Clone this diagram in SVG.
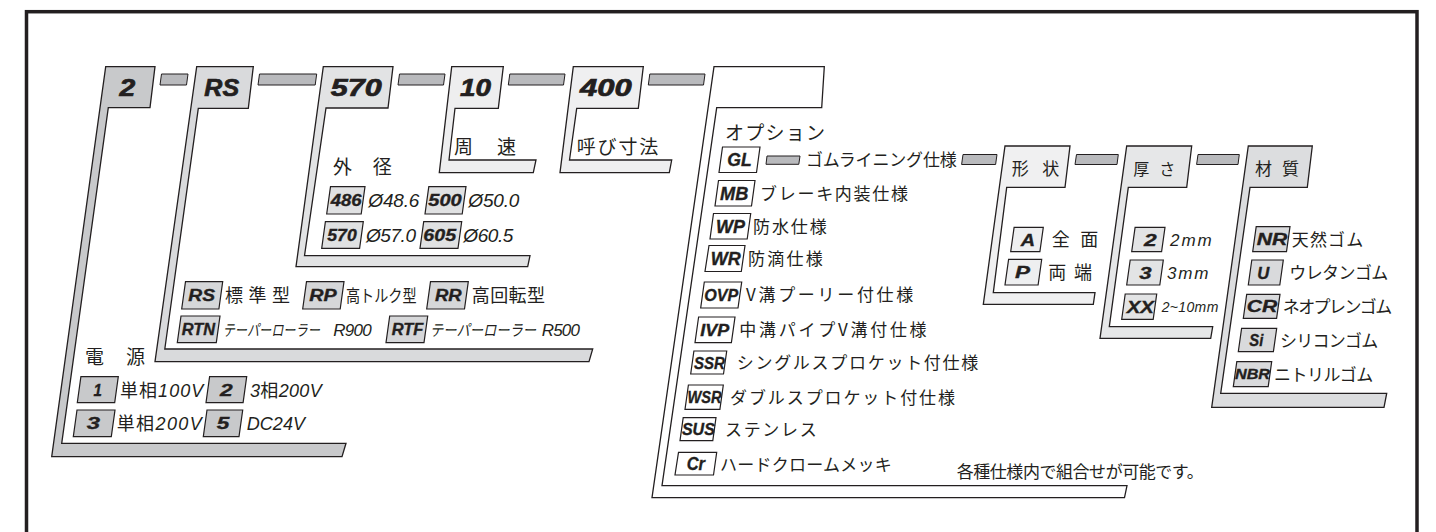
<svg xmlns="http://www.w3.org/2000/svg" width="1436" height="532" viewBox="0 0 1436 532">
<style>
.br{stroke:#231f20;stroke-width:1.3;stroke-linejoin:miter}
.bx{stroke:#231f20;stroke-width:1.2}
.bar{fill:#b9babd;stroke:#231f20;stroke-width:1}
.jp{font-family:"Noto Sans CJK JP","Noto Sans CJK SC",sans-serif;fill:#231f20}
.lt{font-family:"Liberation Sans",Arial,sans-serif;font-style:italic}
.ltx{font-family:"Liberation Sans",Arial,sans-serif;font-style:italic;fill:#231f20}
.lb{font-family:"Liberation Sans",Arial,sans-serif;font-weight:bold;font-style:italic;fill:#231f20;text-anchor:middle;stroke:#231f20;stroke-width:0.35}
.hd{font-size:23px;stroke-width:0.7}
.sm{font-size:17px}
</style>
<rect x="26.5" y="11.7" width="1390.5" height="600" fill="none" stroke="#231f20" stroke-width="3.5"/>

<g id="connectors">
<polygon class="bar" points="161.5,74 188,74 186.5,85 160,85"/>
<polygon class="bar" points="259.5,74 316.7,74 315.2,85 258,85"/>
<polygon class="bar" points="399.5,74 445,74 443.5,85 398,85"/>
<polygon class="bar" points="509.8,74 565,74 563.5,85 508.3,85"/>
<polygon class="bar" points="649.8,74 705,74 703.5,85 648.3,85"/>
<polygon class="bar" points="767,156 800,156 798.8,164.3 766,164.3"/>
<polygon class="bar" points="963,154.5 997,154.5 995.6,164.5 961.6,164.5"/>
<polygon class="bar" points="1076.5,154.5 1118.3,154.5 1117,164.5 1075,164.5"/>
<polygon class="bar" points="1198,154.5 1239.3,154.5 1238,164.5 1196.6,164.5"/>
</g>

<g id="node-power">
<polygon class="br" fill="#c8c9cb" points="105.7,66.7 155,66.7 150,107.7 108.3,107.7 61.7,443.3 346,443.3 342,456.7 51.7,456.7"/>
<text class="lb hd" x="127.3" y="96" textLength="15.7" lengthAdjust="spacingAndGlyphs">2</text>
<text class="jp" x="85" y="363.9" font-size="19" textLength="60">電 源</text>
<polygon class="bx" fill="#c8c9cb" points="80.9,376.7 118.3,376.7 114.7,402.7 77.3,402.7"/>
<text class="lb sm" x="97.6" y="395.8" textLength="8.4" lengthAdjust="spacingAndGlyphs">1</text>
<text class="jp" x="120" y="396.5" font-size="18" textLength="83.3">単相<tspan class="lt">100V</tspan></text>
<polygon class="bx" fill="#c8c9cb" points="209.6,376.7 246.7,376.7 243.1,402.7 206,402.7"/>
<text class="lb sm" x="226.3" y="395.8" textLength="12.7" lengthAdjust="spacingAndGlyphs">2</text>
<text class="jp" x="250" y="396.5" font-size="18" textLength="71.7"><tspan class="lt">3</tspan>相<tspan class="lt">200V</tspan></text>
<polygon class="bx" fill="#c8c9cb" points="77,410 115,410 111.3,436.7 73.3,436.7"/>
<text class="lb sm" x="93.3" y="429.4" textLength="13.3" lengthAdjust="spacingAndGlyphs">3</text>
<text class="jp" x="116.7" y="430.1" font-size="18" textLength="85">単相<tspan class="lt">200V</tspan></text>
<polygon class="bx" fill="#c8c9cb" points="207,410 242.7,410 239,436.7 203.3,436.7"/>
<text class="lb sm" x="223" y="429.4" textLength="12.6" lengthAdjust="spacingAndGlyphs">5</text>
<text class="ltx" x="246.7" y="429.8" font-size="18" textLength="58.3">DC24V</text>
</g>

<g id="node-type">
<polygon class="br" fill="#d9dadc" points="196.7,66.7 253.3,66.7 248.3,108.3 198.3,108.3 164.8,349 592.7,349 589,361.7 155,361.7"/>
<text class="lb hd" x="221.7" y="96" textLength="34.7" lengthAdjust="spacingAndGlyphs">RS</text>
<polygon class="bx" fill="#d6d7d9" points="185.5,281.7 222.7,281.7 218.9,309 181.7,309"/>
<text class="lb" font-size="16" x="201.7" y="301.4" textLength="26.7" lengthAdjust="spacingAndGlyphs">RS</text>
<text class="jp" x="225" y="302" font-size="18" textLength="65">標 準 型</text>
<polygon class="bx" fill="#d6d7d9" points="306.5,281.7 344,281.7 340.2,309 302.7,309"/>
<text class="lb" font-size="16" x="323" y="301.4" textLength="27.4" lengthAdjust="spacingAndGlyphs">RP</text>
<text class="jp" font-size="17" transform="translate(346,302) scale(0.83,1)">高トルク型</text>
<polygon class="bx" fill="#d6d7d9" points="430.5,281.7 468.3,281.7 464.5,309 426.7,309"/>
<text class="lb" font-size="16" x="448.3" y="301.4" textLength="26.7" lengthAdjust="spacingAndGlyphs">RR</text>
<text class="jp" x="471.7" y="302" font-size="18" textLength="73.3">高回転型</text>
<polygon class="bx" fill="#d6d7d9" points="181,316 220,316 216.3,342.7 177.3,342.7"/>
<text class="lb" font-size="16" x="198.3" y="335.3" textLength="33.3" lengthAdjust="spacingAndGlyphs">RTN</text>
<text class="jp" font-size="16" font-style="italic" transform="translate(222.7,336) scale(0.76,1)">テーパーローラー</text>
<text class="ltx" x="333.3" y="335.8" font-size="17" textLength="38.4">R900</text>
<polygon class="bx" fill="#d6d7d9" points="389.7,316 427.7,316 424,342.7 386,342.7"/>
<text class="lb" font-size="16" x="407.5" y="335.3" textLength="31.6" lengthAdjust="spacingAndGlyphs">RTF</text>
<text class="jp" font-size="16" font-style="italic" transform="translate(430,336) scale(0.83,1)">テーパーローラー</text>
<text class="ltx" x="541.7" y="335.8" font-size="17" textLength="38.3">R500</text>
</g>

<g id="node-diameter">
<polygon class="br" fill="#e2e3e4" points="323.3,66.7 393,66.7 388,108 326,108 304.5,255.7 530,255.7 527.7,266.7 296,266.7"/>
<text class="lb hd" x="356.2" y="96" textLength="51" lengthAdjust="spacingAndGlyphs">570</text>
<text class="jp" x="333" y="174.2" font-size="19" textLength="58.7">外 径</text>
<polygon class="bx" fill="#e0e1e2" points="330.5,186.7 365,186.7 361.2,214 326.7,214"/>
<text class="lb" font-size="16" x="346.2" y="206.1" textLength="31" lengthAdjust="spacingAndGlyphs">486</text>
<text class="ltx" x="368.3" y="207" font-size="19" textLength="51">Ø48.6</text>
<polygon class="bx" fill="#e0e1e2" points="428.8,186.7 466,186.7 462.2,214 425,214"/>
<text class="lb" font-size="16" x="445" y="206.1" textLength="33.4" lengthAdjust="spacingAndGlyphs">500</text>
<text class="ltx" x="468.3" y="207" font-size="19" textLength="51">Ø50.0</text>
<polygon class="bx" fill="#e0e1e2" points="325.4,221.7 363.3,221.7 359.6,248.3 321.7,248.3"/>
<text class="lb" font-size="16" x="342" y="240.9" textLength="29.4" lengthAdjust="spacingAndGlyphs">570</text>
<text class="ltx" x="366" y="241.8" font-size="19" textLength="50">Ø57.0</text>
<polygon class="bx" fill="#e0e1e2" points="423.7,221.7 461.7,221.7 458,248.3 420,248.3"/>
<text class="lb" font-size="16" x="439.7" y="240.9" textLength="32.7" lengthAdjust="spacingAndGlyphs">605</text>
<text class="ltx" x="463.3" y="241.8" font-size="19" textLength="50">Ø60.5</text>
</g>

<g id="node-speed">
<polygon class="br" fill="#eeeeef" points="451.7,66.7 503.3,66.7 498.3,108.3 455,108.3 449,160 536,160 533.3,172.7 439.3,172.7"/>
<text class="lb hd" x="475.5" y="96" textLength="31" lengthAdjust="spacingAndGlyphs">10</text>
<text class="jp" x="454" y="154.2" font-size="19" textLength="62">周 速</text>
</g>

<g id="node-size">
<polygon class="br" fill="#efeff0" points="573.3,66.7 643.3,66.7 638.3,108.3 576.7,108.3 569.5,160 671.7,160 669.3,172.7 560,172.7"/>
<text class="lb hd" x="605.8" y="96" textLength="51.7" lengthAdjust="spacingAndGlyphs">400</text>
<text class="jp" x="576.7" y="154.2" font-size="19" textLength="81.6">呼び寸法</text>
</g>

<g id="node-option">
<polygon class="br" fill="#ffffff" points="714,66.7 824.3,66.7 821.7,107.7 716.7,107.7 662,485.7 1127,485.7 1124.5,497.7 652,497.7"/>
<text class="jp" x="725" y="139.7" font-size="19" textLength="100">オプション</text>
<g fill="#ffffff">
<polygon class="bx" points="722.5,147 760,147 756.5,172.5 719,172.5"/>
<polygon class="bx" points="718.5,180.5 755,180.5 751.5,206 715,206"/>
<polygon class="bx" points="713.5,213.5 750.7,213.5 747.2,239 710,239"/>
<polygon class="bx" points="709,245.5 745,245.5 741.3,271.5 705,271.5"/>
<polygon class="bx" points="704.3,282 741.7,282 738,308 700.7,308"/>
<polygon class="bx" points="698.6,317 735,317 731.4,342.7 695,342.7"/>
<polygon class="bx" points="693.9,351 726.7,351 723.5,374 690.7,374"/>
<polygon class="bx" points="688.4,385 723.3,385 719.9,409.3 685,409.3"/>
<polygon class="bx" points="683.2,417.7 716,417.7 712.8,440.7 680,440.7"/>
<polygon class="bx" points="678.5,452.3 716.7,452.3 713.5,475 675,475"/>
</g>
<text class="lb" font-size="18" x="739.5" y="166.3" textLength="24.4" lengthAdjust="spacingAndGlyphs">GL</text>
<text class="lb" font-size="18" x="734.2" y="199.8" textLength="28.3" lengthAdjust="spacingAndGlyphs">MB</text>
<text class="lb" font-size="18" x="730.5" y="232.8" textLength="29" lengthAdjust="spacingAndGlyphs">WP</text>
<text class="lb" font-size="18" x="725.7" y="265" textLength="30" lengthAdjust="spacingAndGlyphs">WR</text>
<text class="lb" font-size="17" x="721.2" y="301.2" textLength="34" lengthAdjust="spacingAndGlyphs">OVP</text>
<text class="lb" font-size="17" x="714.7" y="336" textLength="29" lengthAdjust="spacingAndGlyphs">IVP</text>
<text class="lb" font-size="17" x="709.5" y="368.6" textLength="31" lengthAdjust="spacingAndGlyphs">SSR</text>
<text class="lb" font-size="17" x="704.5" y="403.3" textLength="34" lengthAdjust="spacingAndGlyphs">WSR</text>
<text class="lb" font-size="17" x="698.4" y="435.3" textLength="33" lengthAdjust="spacingAndGlyphs">SUS</text>
<text class="lb" font-size="18" x="695.8" y="470" textLength="18.3" lengthAdjust="spacingAndGlyphs">Cr</text>
<g class="jp" font-size="17">
<text x="806" y="166.2" textLength="150.7">ゴムライニング仕様</text>
<text x="760" y="199.7" textLength="148">ブレーキ内装仕様</text>
<text x="753" y="232.7" textLength="73.7">防水仕様</text>
<text x="748" y="264.9" textLength="74.7">防滴仕様</text>
<text x="746" y="301.4" textLength="167.3">V溝プーリー付仕様</text>
<text x="739.3" y="336.3" textLength="187.3">中溝パイプV溝付仕様</text>
<text x="736.7" y="368.9" textLength="241.6">シングルスプロケット付仕様</text>
<text x="730" y="403.6" textLength="225">ダブルスプロケット付仕様</text>
<text x="725" y="436.4" textLength="91.7">ステンレス</text>
<text x="720" y="471.4" textLength="171.7">ハードクロームメッキ</text>
<text x="956.7" y="478.4" textLength="247">各種仕様内で組合せが可能です。</text>
</g>
</g>

<g id="node-shape">
<polygon class="br" fill="#f0f0f1" points="1005,146 1070,146 1065,187.3 1006.7,187.3 993.3,292.7 1095,292.7 1093.3,304.3 983.3,304.3"/>
<text class="jp" x="1011.7" y="174.5" font-size="17" textLength="47.6">形 状</text>
<polygon class="bx" fill="#eeeff0" points="1014.1,227.3 1043.3,227.3 1039.9,251.7 1010.7,251.7"/>
<text class="lb sm" x="1027.8" y="245.6" textLength="14.3" lengthAdjust="spacingAndGlyphs">A</text>
<text class="jp" x="1051.7" y="246.3" font-size="18" textLength="46.6">全 面</text>
<polygon class="bx" fill="#eeeff0" points="1008.6,259.3 1041.7,259.3 1038.1,285 1005,285"/>
<text class="lb sm" x="1022.5" y="278.3" textLength="15" lengthAdjust="spacingAndGlyphs">P</text>
<text class="jp" x="1048.3" y="279" font-size="18" textLength="43.7">両 端</text>
</g>

<g id="node-thickness">
<polygon class="br" fill="#e6e7e8" points="1126.7,146 1191.7,146 1186.7,187.3 1128.3,187.3 1109.3,326.7 1212.7,326.7 1210.7,338.3 1100,338.3"/>
<text class="jp" x="1133.3" y="174.5" font-size="16" textLength="42">厚 さ</text>
<polygon class="bx" fill="#e3e4e5" points="1135.1,227.3 1165,227.3 1161.6,251.7 1131.7,251.7"/>
<text class="lb sm" x="1150.3" y="245.6" textLength="12.7" lengthAdjust="spacingAndGlyphs">2</text>
<text class="ltx" x="1170" y="245.6" font-size="17" textLength="41.7">2mm</text>
<polygon class="bx" fill="#e3e4e5" points="1130.2,260 1163.3,260 1159.8,285 1126.7,285"/>
<text class="lb sm" x="1145.5" y="278.6" textLength="12.4" lengthAdjust="spacingAndGlyphs">3</text>
<text class="ltx" x="1167" y="278.6" font-size="17" textLength="41.3">3mm</text>
<polygon class="bx" fill="#e3e4e5" points="1125.2,294 1156.7,294 1153.2,319.3 1121.7,319.3"/>
<text class="lb sm" x="1140.3" y="312.8" textLength="27.3" lengthAdjust="spacingAndGlyphs">XX</text>
<text class="ltx" x="1161.7" y="311.7" font-size="14" textLength="56.6">2~10mm</text>
</g>

<g id="node-material">
<polygon class="br" fill="#dcdddf" points="1248.3,146 1312.3,146 1307.3,187.3 1250,187.3 1220.7,393.3 1386.7,393.3 1384,407.3 1211.7,407.3"/>
<text class="jp" x="1255" y="174.5" font-size="17" textLength="44">材 質</text>
<polygon class="bx" fill="#d9dadc" points="1256.2,226.7 1290,226.7 1286.5,251.7 1252.7,251.7"/>
<text class="lb" font-size="17" x="1272" y="245.3" textLength="30.6" lengthAdjust="spacingAndGlyphs">NR</text>
<polygon class="bx" fill="#d9dadc" points="1251.8,260 1283.3,260 1279.8,285 1248.3,285"/>
<text class="lb" font-size="17" x="1263.3" y="278.6" textLength="12" lengthAdjust="spacingAndGlyphs">U</text>
<polygon class="bx" fill="#d9dadc" points="1246.7,294.3 1280,294.3 1276.6,318.3 1243.3,318.3"/>
<text class="lb" font-size="17" x="1262" y="312.4" textLength="30.6" lengthAdjust="spacingAndGlyphs">CR</text>
<polygon class="bx" fill="#d9dadc" points="1241.6,328.3 1276.7,328.3 1273.4,351.7 1238.3,351.7"/>
<text class="lb" font-size="17" x="1256.3" y="346.1" textLength="14" lengthAdjust="spacingAndGlyphs">Si</text>
<polygon class="bx" fill="#d9dadc" points="1236.8,361.7 1271.7,361.7 1268.2,386.7 1233.3,386.7"/>
<text class="lb" font-size="14" x="1252.5" y="379.2" textLength="35" lengthAdjust="spacingAndGlyphs">NBR</text>
<g class="jp" font-size="17">
<text x="1291.7" y="245.7" textLength="71.6">天然ゴム</text>
<text x="1289.3" y="279" textLength="99">ウレタンゴム</text>
<text x="1282.7" y="312.8" textLength="109.6">ネオプレンゴム</text>
<text x="1280" y="346.5" textLength="98.3">シリコンゴム</text>
<text x="1274" y="380.7" textLength="99.3">ニトリルゴム</text>
</g>
</g>
</svg>
